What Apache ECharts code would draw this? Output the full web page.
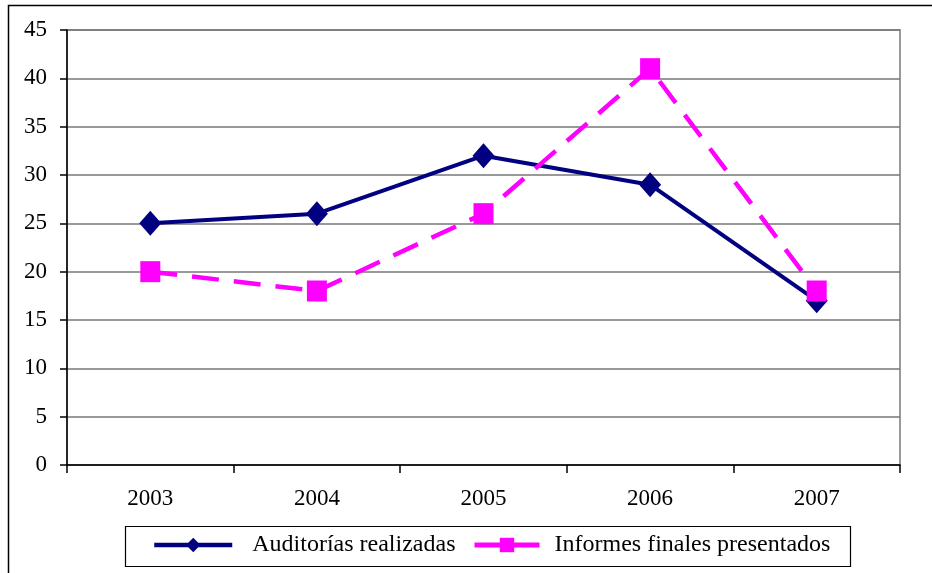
<!DOCTYPE html>
<html>
<head>
<meta charset="utf-8">
<script src="https://cdn.jsdelivr.net/npm/echarts@6/dist/echarts.min.js"></script>
<style>
html,body{margin:0;padding:0;background:#fff;}
#c{width:932px;height:573px;}
</style>
</head>
<body>
<div id="c"></div>
<script>
var categories = ['2003', '2004', '2005', '2006', '2007'];
var auditorias = [25, 26, 32, 29, 17];
var informes = [20, 18, 26, 41, 18];
var seriesNames = ['Auditorías realizadas', 'Informes finales presentados'];

var chart = echarts.init(document.getElementById('c'));
var font = 'Liberation Serif';
var legendText = {fontFamily: font, fontSize: 24, color: '#000'};
chart.setOption({
  animation: false,
  backgroundColor: '#fff',
  graphic: [
    {
      type: 'rect',
      shape: {x: 8.5, y: 5.5, width: 1000, height: 1000},
      style: {fill: 'none', stroke: '#000', lineWidth: 1.5},
      z: -1
    },
    {
      type: 'rect',
      shape: {x: 125.5, y: 526.5, width: 725, height: 40},
      style: {fill: 'none', stroke: '#000', lineWidth: 1.2},
      z: -1
    }
  ],
  grid: {
    left: 67, top: 30, right: 32, bottom: 108,
    show: true, borderColor: '#999', borderWidth: 2, backgroundColor: 'transparent'
  },
  legend: [
    {
      left: 152, top: 533, padding: 0,
      itemWidth: 78, itemHeight: 18,
      lineStyle: {width: 4.5},
      textStyle: Object.assign({padding: [0, 0, 0, 15]}, legendText),
      data: [{name: seriesNames[0], lineStyle: {width: 4.5}}]
    },
    {
      left: 472, top: 533, padding: 0,
      itemWidth: 65, itemHeight: 18,
      lineStyle: {type: 'solid', width: 5},
      textStyle: Object.assign({padding: [0, 0, 0, 10]}, legendText),
      data: [{name: seriesNames[1], lineStyle: {type: 'solid', width: 5}}]
    }
  ],
  xAxis: {
    type: 'category',
    data: categories,
    boundaryGap: true,
    axisLine: {lineStyle: {color: '#000', width: 1.5}},
    axisTick: {show: true, length: 8, lineStyle: {color: '#000', width: 1.5}},
    axisLabel: {fontFamily: font, fontSize: 23, color: '#000', margin: 22},
    splitLine: {show: false}
  },
  yAxis: {
    type: 'value',
    min: 0, max: 45, interval: 5,
    axisLine: {show: true, lineStyle: {color: '#000', width: 1.5}},
    axisTick: {show: true, length: 7, lineStyle: {color: '#000', width: 1.5}},
    axisLabel: {fontFamily: font, fontSize: 23, color: '#000', margin: 20},
    splitLine: {show: true, lineStyle: {color: '#777', width: 1.5}}
  },
  series: [
    {
      name: seriesNames[0],
      type: 'line',
      data: auditorias,
      symbol: 'diamond',
      symbolSize: [22, 25],
      color: '#000080',
      itemStyle: {color: '#000080'},
      lineStyle: {color: '#000080', width: 4},
      z: 3
    },
    {
      name: seriesNames[1],
      type: 'line',
      data: informes,
      symbol: 'rect',
      symbolSize: [20, 21],
      color: '#FF00FF',
      itemStyle: {color: '#FF00FF'},
      lineStyle: {color: '#FF00FF', width: 4.5, type: [27, 15]},
      z: 4
    }
  ]
});
</script>
</body>
</html>
